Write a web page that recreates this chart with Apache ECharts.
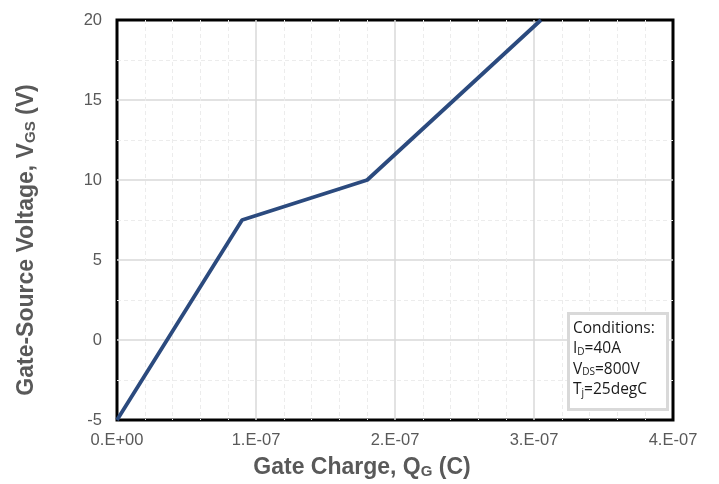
<!DOCTYPE html>
<html><head><meta charset="utf-8">
<script src="https://cdn.jsdelivr.net/npm/echarts@6/dist/echarts.min.js"></script>
<style>html,body{margin:0;padding:0;background:#fff}#c{width:719px;height:484px}</style>
</head><body><div id="c"></div>
<script>
const gateCharge = [0, 0.9e-7, 1.8e-7, 3.05e-7];
const gateVoltage = [-5, 7.5, 10, 20];
const xTicks = ['0.E+00', '1.E-07', '2.E-07', '3.E-07', '4.E-07'];
const conditions = ['Conditions:', 'I_D=40A', 'V_DS=800V', 'T_j=25degC'];

const chart = echarts.init(document.getElementById('c'));
const font = 'Liberation Sans, Arial, sans-serif';
const gray = '#595959';

function condText(s) {
  const m = s.match(/^([A-Z])_([A-Za-z]+)(.*)$/);
  if (!m) return '{n|' + s + '}';
  return '{n|' + m[1] + '}{s|' + m[2] + '}{n|' + m[3] + '}';
}

const titleRich = {
  t: { fontSize: 23, fontWeight: 'bold', color: gray, fontFamily: font, lineHeight: 26, verticalAlign: 'bottom' },
  s: { fontSize: 15, fontWeight: 'bold', color: gray, fontFamily: font, lineHeight: 11, verticalAlign: 'bottom' }
};

chart.setOption({
  animation: false,
  title: {
    left: 573, top: 316, padding: 0, z: 20,
    text: conditions.map(condText).join('\n'),
    textStyle: { rich: {
      n: { fontSize: 15.5, color: '#1a1a1a', fontFamily: 'Open Sans', lineHeight: 20.5, verticalAlign: 'bottom', fontWeight: 'normal' },
      s: { fontSize: 10, color: '#1a1a1a', fontFamily: 'Open Sans', lineHeight: 8, verticalAlign: 'bottom', fontWeight: 'normal' }
    } }
  },
  grid: { left: 117, top: 20, width: 556, height: 400, show: true, borderColor: '#000', borderWidth: 3, backgroundColor: '#fff', z: 0 },
  xAxis: {
    type: 'value', min: 0, max: 4e-7, interval: 1e-7,
    axisLine: { show: false }, axisTick: { show: false },
    axisLabel: { color: gray, fontSize: 16.5, fontFamily: font, margin: 12,
      formatter: v => xTicks[Math.round(v / 1e-7)] },
    splitLine: { show: true, lineStyle: { color: '#d9d9d9', width: 1.5 }, showMinLine: false, showMaxLine: false },
    minorTick: { show: false, splitNumber: 5 },
    minorSplitLine: { show: true, lineStyle: { color: '#ececec', type: [4, 3], width: 1 } },
    name: '{t|Gate Charge, Q}{s|G}{t| (C)}', nameLocation: 'middle', nameGap: 33,
    nameTextStyle: { padding: [0, 66, 0, 0], rich: titleRich }
  },
  yAxis: {
    type: 'value', min: -5, max: 20, interval: 5,
    axisLine: { show: false }, axisTick: { show: false },
    axisLabel: { color: gray, fontSize: 16.5, fontFamily: font, margin: 15 },
    splitLine: { show: true, lineStyle: { color: '#d9d9d9', width: 1.5 }, showMinLine: false, showMaxLine: false },
    minorTick: { show: false, splitNumber: 2 },
    minorSplitLine: { show: true, lineStyle: { color: '#ececec', type: [4, 3], width: 1 } },
    name: '{t|Gate-Source Voltage, V}{s|GS}{t| (V)}', nameLocation: 'middle', nameGap: 79, nameRotate: 90,
    nameTextStyle: { padding: [0, 40, 0, 0], rich: titleRich }
  },
  series: [{
    type: 'line', data: gateCharge.map((x, i) => [x, gateVoltage[i]]),
    symbol: 'none', lineStyle: { color: '#2b4a7e', width: 3.8 }, z: 5
  }],
  graphic: [{
    type: 'rect', left: 567, top: 312, z: 10,
    shape: { x: 0, y: 0, width: 99, height: 96 },
    style: { fill: '#fff', stroke: '#d9d9d9', lineWidth: 3 }
  }]
});
</script></body></html>
